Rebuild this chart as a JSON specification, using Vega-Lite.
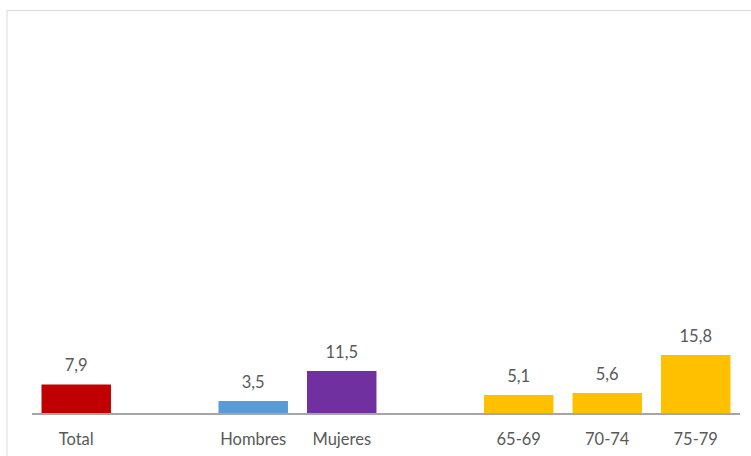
{
  "$schema": "https://vega.github.io/schema/vega-lite/v6.json",
  "width": 760,
  "height": 456,
  "autosize": {"type": "none"},
  "padding": {"left": 6.5, "top": 10, "right": 0, "bottom": 0},
  "background": "white",
  "config": {
    "view": {"stroke": "#D9D9D9", "strokeWidth": 1},
    "locale": {"number": {"decimal": ",", "thousands": ".", "grouping": [3], "currency": ["", " €"]}},
    "font": "Lato"
  },
  "data": {
    "values": [
      {"cat": "Total", "value": 7.9, "grupo": "total"},
      {"cat": " ", "value": null, "grupo": "blank"},
      {"cat": "Hombres", "value": 3.5, "grupo": "hombres"},
      {"cat": "Mujeres", "value": 11.5, "grupo": "mujeres"},
      {"cat": "  ", "value": null, "grupo": "blank"},
      {"cat": "65-69", "value": 5.1, "grupo": "edad"},
      {"cat": "70-74", "value": 5.6, "grupo": "edad"},
      {"cat": "75-79", "value": 15.8, "grupo": "edad"}
    ]
  },
  "encoding": {
    "x": {
      "field": "cat",
      "type": "nominal",
      "sort": null,
      "scale": {
        "domain": ["Total", " ", "Hombres", "Mujeres", "  ", "65-69", "70-74", "75-79"],
        "paddingInner": 0.215,
        "paddingOuter": 0.4013,
        "align": 0.4928,
        "round": false
      },
      "axis": {
        "title": null,
        "orient": "bottom",
        "offset": -52,
        "domain": false,
        "ticks": false,
        "labelAngle": 0,
        "labelFont": "Lato",
        "labelFontSize": 16.5,
        "labelColor": "#595959",
        "labelPadding": 17
      }
    },
    "y": {
      "field": "value",
      "type": "quantitative",
      "scale": {"domain": [-13.93, 108.2], "nice": false, "zero": false},
      "axis": null
    }
  },
  "layer": [
    {
      "mark": {"type": "bar"},
      "encoding": {
        "y2": {"datum": 0},
        "color": {
          "field": "grupo",
          "type": "nominal",
          "scale": {
            "domain": ["total", "hombres", "mujeres", "edad", "blank"],
            "range": ["#C00000", "#5B9BD5", "#7030A0", "#FFC000", "#FFFFFF"]
          },
          "legend": null
        }
      }
    },
    {
      "mark": {"type": "text", "baseline": "alphabetic", "dy": -13, "font": "Lato", "fontSize": 16.5, "color": "#595959"},
      "encoding": {
        "text": {"field": "value", "type": "quantitative", "format": ".1f"}
      }
    },
    {
      "mark": {"type": "rule", "color": "#A6A6A6", "strokeWidth": 2, "xOffset": -44.25, "x2Offset": 44.25},
      "encoding": {
        "x": {"datum": "Total"},
        "x2": {"datum": "75-79"},
        "y": {"datum": 0}
      }
    }
  ]
}
